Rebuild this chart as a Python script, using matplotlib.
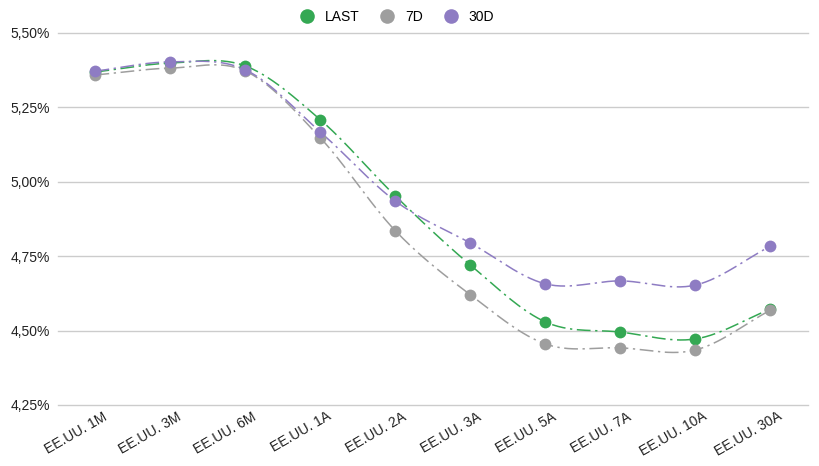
import numpy as np
import matplotlib.pyplot as plt
import matplotlib.transforms as mtransforms
from matplotlib.lines import Line2D

plt.rcParams['font.family'] = ['Liberation Sans', 'DejaVu Sans']

tenors = ['EE.UU. 1M', 'EE.UU. 3M', 'EE.UU. 6M', 'EE.UU. 1A', 'EE.UU. 2A',
          'EE.UU. 3A', 'EE.UU. 5A', 'EE.UU. 7A', 'EE.UU. 10A', 'EE.UU. 30A']
last = [5.369, 5.399, 5.389, 5.208, 4.952, 4.720, 4.529, 4.495, 4.472, 4.573]
d7 = [5.359, 5.382, 5.372, 5.147, 4.835, 4.620, 4.455, 4.442, 4.435, 4.569]
d30 = [5.372, 5.403, 5.376, 5.167, 4.935, 4.794, 4.657, 4.667, 4.653, 4.784]
yticks = [4.25, 4.50, 4.75, 5.00, 5.25, 5.50]

series = [('LAST', last, '#34a853'), ('7D', d7, '#9e9e9e'), ('30D', d30, '#8e7cc3')]


def smooth(x, y, n=30):
    # Catmull-Rom through the points, for a curved connecting line
    x = np.asarray(x, float)
    y = np.asarray(y, float)
    px = np.concatenate([[2 * x[0] - x[1]], x, [2 * x[-1] - x[-2]]])
    py = np.concatenate([[2 * y[0] - y[1]], y, [2 * y[-1] - y[-2]]])
    xs, ys = [], []
    t = np.linspace(0, 1, n, endpoint=False)
    for i in range(1, len(px) - 2):
        for arr, out in ((px, xs), (py, ys)):
            p0, p1, p2, p3 = arr[i - 1], arr[i], arr[i + 1], arr[i + 2]
            out.extend(0.5 * ((2 * p1) + (-p0 + p2) * t
                              + (2 * p0 - 5 * p1 + 4 * p2 - p3) * t ** 2
                              + (-p0 + 3 * p1 - 3 * p2 + p3) * t ** 3))
    xs.append(x[-1])
    ys.append(y[-1])
    return np.array(xs), np.array(ys)


fig = plt.figure(figsize=(8.2, 4.66), dpi=100)
ax = fig.add_axes([58 / 820, 1 - 405 / 466, 750 / 820, 372 / 466])

x = np.arange(len(tenors))
for name, vals, col in series:
    sx, sy = smooth(x, vals)
    ax.plot(sx, sy, color=col, lw=1.1, dashes=(9, 3, 1.5, 3))
    ax.plot(x, vals, 'o', color=col, ms=8.5, mec='none', zorder=3)

ax.set_xlim(-0.5, len(tenors) - 0.5)
ax.set_ylim(4.25, 5.50)
ax.set_yticks(yticks)
ax.set_yticklabels([f'{v:.2f}%'.replace('.', ',') for v in yticks], fontsize=10, color='#222222')

# category labels, slanted, right end just past each category centre
ax.set_xticks(x)
ax.set_xticklabels([])
lbl_tr = ax.get_xaxis_transform() + mtransforms.ScaledTranslation(
    12 / 100, -14 / 100, fig.dpi_scale_trans)
for i, name in enumerate(tenors):
    ax.text(i, 0, name, transform=lbl_tr, rotation=30, rotation_mode='anchor',
            ha='right', va='baseline', fontsize=10, color='#222222')

ax.tick_params(length=0, pad=6)
ax.grid(axis='y', color='#cccccc', lw=1)
for gl in ax.yaxis.get_gridlines():
    gl.set_clip_on(False)
ax.set_axisbelow(True)
for s in ax.spines.values():
    s.set_visible(False)

handles = [Line2D([], [], ls='none', marker='o', ms=10.5, color=c, mec='none')
           for _, _, c in series]
fig.legend(handles, [n for n, _, _ in series], loc='upper center',
           bbox_to_anchor=(0.48, 1.005), ncol=3, frameon=False, fontsize=10,
           handletextpad=0.3, columnspacing=1.0)

fig.savefig('out.png', dpi=100)
